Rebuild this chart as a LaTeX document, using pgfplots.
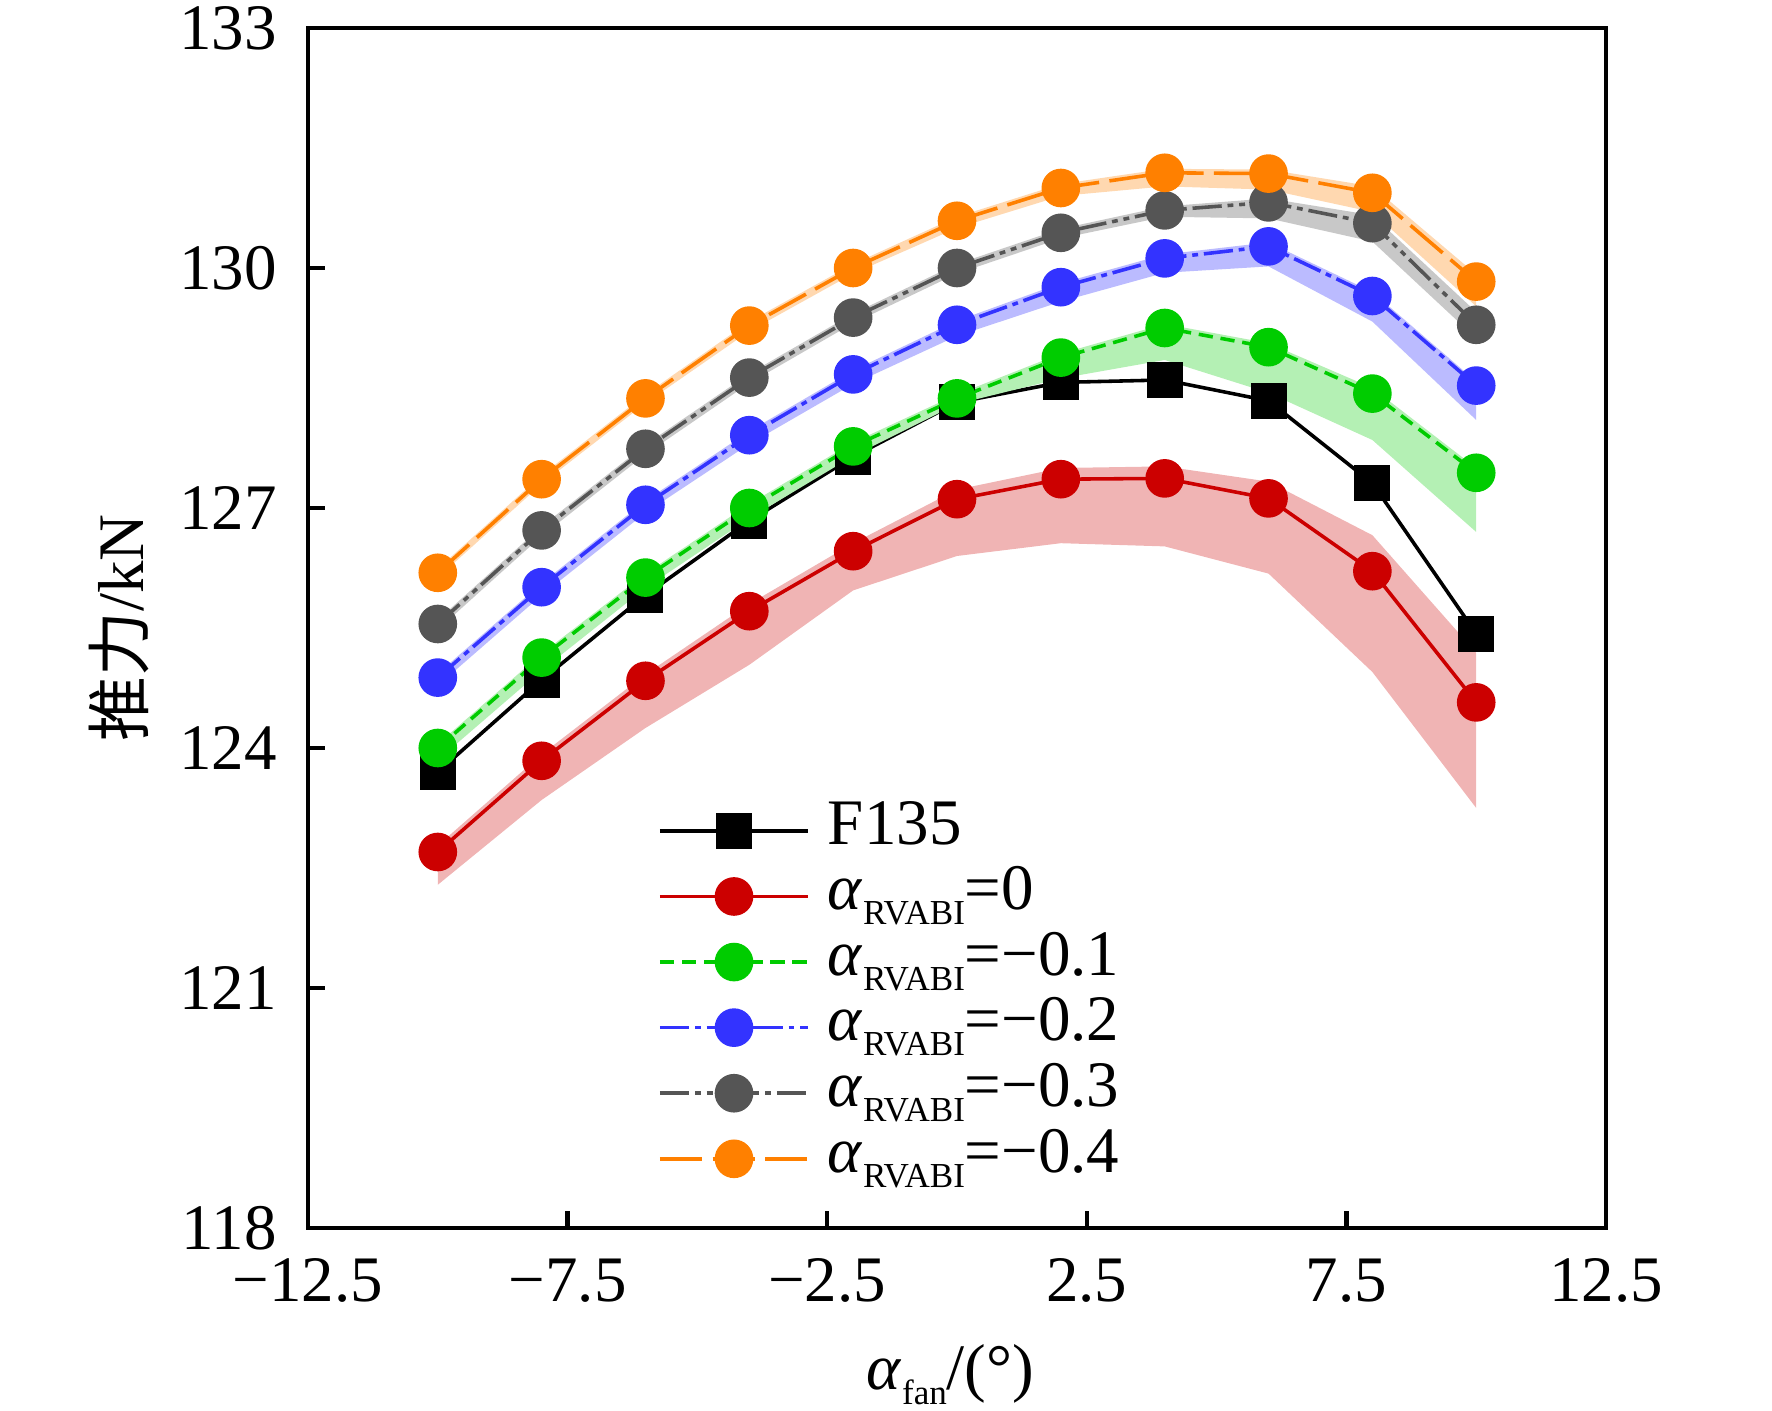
\documentclass[border=0pt]{standalone}
\usepackage{fontspec}
\setmainfont{Liberation Serif}
\newfontfamily\cjk{Noto Sans CJK SC}
\usepackage{pgfplots}
\pgfplotsset{compat=1.18}
\definecolor{cRed}{RGB}{204,0,0}
\definecolor{bRed}{RGB}{240,180,180}
\definecolor{cGreen}{RGB}{0,204,0}
\definecolor{bGreen}{RGB}{180,240,180}
\definecolor{cBlue}{RGB}{51,51,255}
\definecolor{bBlue}{RGB}{187,187,255}
\definecolor{cGray}{RGB}{85,85,85}
\definecolor{bGray}{RGB}{200,200,200}
\definecolor{cOrange}{RGB}{255,128,0}
\definecolor{bOrange}{RGB}{255,216,176}
\newcommand{\sub}[1]{\raisebox{-2.3pt}{\fontsize{5.4}{6}\selectfont #1}}
\newcommand{\aR}{\textit{α}\sub{RVABI}}
\begin{document}
\begin{tikzpicture}
\begin{axis}[
  name=ax,
  scale only axis,
  width=199.9pt, height=184.8pt,
  xmin=-12.5, xmax=12.5, ymin=118, ymax=133,
  xtick={-12.5,-7.5,-2.5,2.5,7.5,12.5},
  xticklabels={−12.5,−7.5,−2.5,2.5,7.5,12.5},
  ytick={118,121,124,127,130,133},
  yticklabels={118,121,124,127,130,133},
  tick align=inside,
  tick pos=left,
  major tick length=2.6pt,
  every tick/.style={black, line width=0.67pt},
  axis line style={line width=0.67pt},
  yticklabel style={xshift=-1.3pt},
  xticklabel style={yshift=-1.2pt},
  xlabel={\textit{α}\sub{fan}/(°)},
  xlabel style={at={(axis description cs:0.5,0)}, anchor=base, yshift=-24.9pt, xshift=-1pt},
  ylabel={{\cjk 推力}/kN},
  ylabel style={at={(axis description cs:0,0.5)}, anchor=center, yshift=29.1pt},
  legend image code/.code={\draw[mark repeat=2,mark phase=2,#1] plot coordinates {(0pt,0pt) (11.4pt,0pt) (22.8pt,0pt)};},
  legend cell align=left,
  legend style={draw=none, fill=none, at={(axis cs:-5.78,123.39)}, anchor=north west,
    inner sep=0pt, row sep=0pt, column sep=2.8pt,
    nodes={inner sep=0pt, text height=7.1pt, text depth=3pt}},
]
% F135
\addplot[black, line width=0.55pt, mark=square*, mark size=2.5pt, mark options={solid, fill=black}]
coordinates {(-10,123.70) (-8,124.85) (-6,125.91) (-4,126.84) (-2,127.64) (0,128.32) (2,128.57) (4,128.60) (6,128.34) (8,127.31) (10,125.43)};
\addlegendentry{F135}
% red band + line
\addplot[draw=none, fill=bRed, forget plot]
coordinates {(-10,122.78) (-8,123.92) (-6,124.92) (-4,125.80) (-2,126.56) (0,127.23) (2,127.50) (4,127.52) (6,127.33) (8,126.66) (10,125.19)
 (10,123.25) (8,124.95) (6,126.18) (4,126.52) (2,126.56) (0,126.40) (-2,125.97) (-4,125.04) (-6,124.25) (-8,123.35) (-10,122.29)};
\addplot[cRed, line width=0.55pt, mark=*, mark size=2.7pt, mark options={solid, fill=cRed}]
coordinates {(-10,122.70) (-8,123.84) (-6,124.84) (-4,125.71) (-2,126.46) (0,127.11) (2,127.36) (4,127.37) (6,127.12) (8,126.21) (10,124.57)};
\addlegendentry{\aR=0}
% green
\addplot[draw=none, fill=bGreen, forget plot]
coordinates {(-10,124.05) (-8,125.18) (-6,126.18) (-4,127.05) (-2,127.82) (0,128.42) (2,128.93) (4,129.30) (6,129.06) (8,128.50) (10,127.50)
 (10,126.70) (8,127.85) (6,128.44) (4,128.85) (2,128.62) (0,128.30) (-2,127.65) (-4,126.87) (-6,126.00) (-8,124.97) (-10,123.85)};
\addplot[cGreen, line width=0.55pt, dash pattern=on 2.2pt off 1.2pt, mark=*, mark size=2.7pt, mark options={solid, fill=cGreen}]
coordinates {(-10,124.00) (-8,125.13) (-6,126.13) (-4,127.00) (-2,127.77) (0,128.37) (2,128.88) (4,129.25) (6,129.01) (8,128.43) (10,127.44)};
\addlegendentry{\aR=−0.1}
% blue
\addplot[draw=none, fill=bBlue, forget plot]
coordinates {(-10,124.93) (-8,126.06) (-6,127.09) (-4,127.96) (-2,128.72) (0,129.34) (2,129.81) (4,130.17) (6,130.32) (8,129.70) (10,128.58)
 (10,128.10) (8,129.33) (6,130.02) (4,129.94) (2,129.58) (0,129.15) (-2,128.55) (-4,127.80) (-6,126.94) (-8,125.91) (-10,124.78)};
\addplot[cBlue, line width=0.55pt, dash pattern=on 4.5pt off 0.9pt on 0.9pt off 0.9pt, mark=*, mark size=2.7pt, mark options={solid, fill=cBlue}]
coordinates {(-10,124.88) (-8,126.01) (-6,127.04) (-4,127.91) (-2,128.67) (0,129.29) (2,129.76) (4,130.12) (6,130.27) (8,129.65) (10,128.53)};
\addlegendentry{\aR=−0.2}
% gray
\addplot[draw=none, fill=bGray, forget plot]
coordinates {(-10,125.60) (-8,126.77) (-6,127.79) (-4,128.68) (-2,129.43) (0,130.05) (2,130.49) (4,130.77) (6,130.87) (8,130.66) (10,129.45)
 (10,129.12) (8,130.33) (6,130.62) (4,130.64) (2,130.37) (0,129.93) (-2,129.31) (-4,128.56) (-6,127.67) (-8,126.65) (-10,125.48)};
\addplot[cGray, line width=0.55pt, dash pattern=on 4.5pt off 0.9pt on 0.9pt off 0.9pt on 0.9pt off 0.9pt, mark=*, mark size=2.7pt, mark options={solid, fill=cGray}]
coordinates {(-10,125.55) (-8,126.72) (-6,127.74) (-4,128.63) (-2,129.38) (0,130.00) (2,130.44) (4,130.72) (6,130.82) (8,130.56) (10,129.29)};
\addlegendentry{\aR=−0.3}
% orange
\addplot[draw=none, fill=bOrange, forget plot]
coordinates {(-10,126.24) (-8,127.41) (-6,128.42) (-4,129.33) (-2,130.05) (0,130.64) (2,131.05) (4,131.24) (6,131.23) (8,131.02) (10,129.92)
 (10,129.52) (8,130.70) (6,130.98) (4,131.02) (2,130.90) (0,130.50) (-2,129.93) (-4,129.21) (-6,128.31) (-8,127.30) (-10,126.13)};
\addplot[cOrange, line width=0.55pt, dash pattern=on 6.5pt off 1.6pt, mark=*, mark size=2.7pt, mark options={solid, fill=cOrange}]
coordinates {(-10,126.19) (-8,127.36) (-6,128.37) (-4,129.28) (-2,130.00) (0,130.59) (2,131.00) (4,131.19) (6,131.18) (8,130.94) (10,129.83)};
\addlegendentry{\aR=−0.4}
\end{axis}
\pgfresetboundingbox
\path ([xshift=-47.43pt,yshift=-28.18pt]ax.south west) rectangle ([xshift=25.56pt,yshift=4.31pt]ax.north east);
\end{tikzpicture}
\end{document}
